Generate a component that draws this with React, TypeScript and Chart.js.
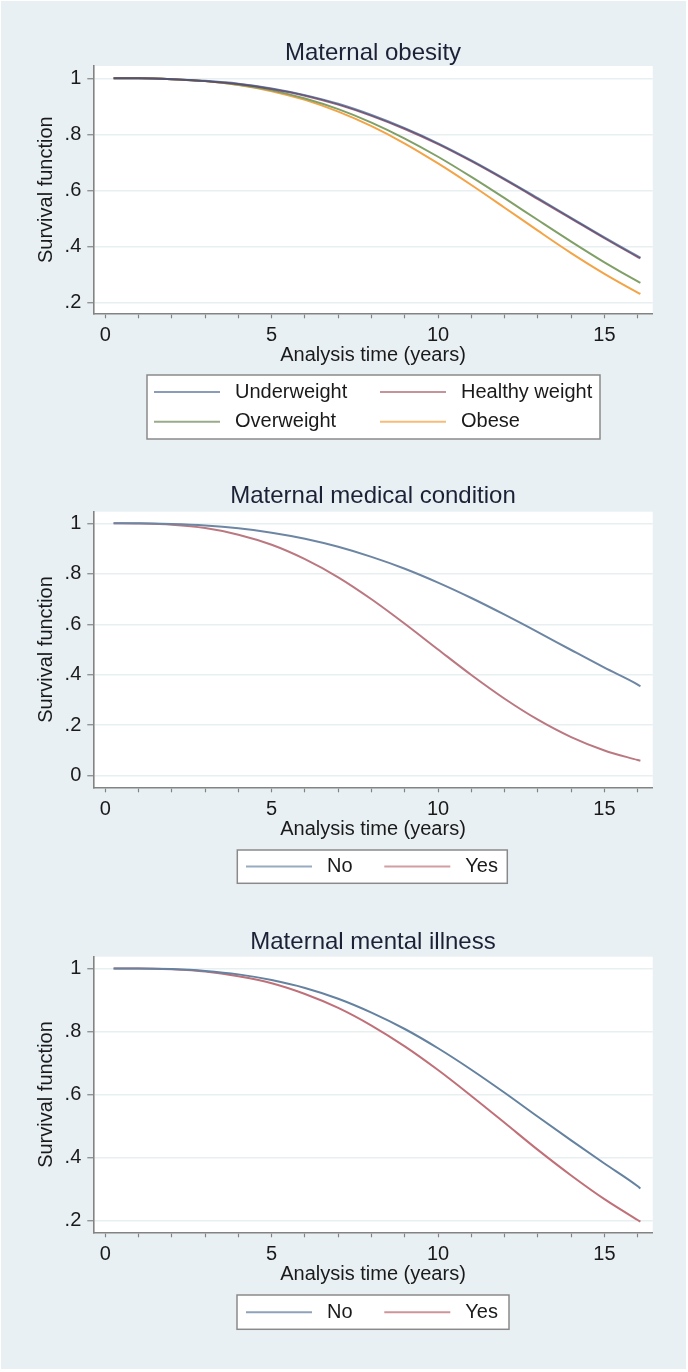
import React, { useEffect, useRef } from "react";
import { Chart, registerables } from "chart.js";

Chart.register(...registerables);

// ---------- data ----------
const timeYears = [0.25, 1, 2, 3, 4, 5, 6, 7, 8, 9, 10, 11, 12, 13, 14, 15, 16, 16.08];
const xTickValues = [0, 1, 2, 3, 4, 5, 6, 7, 8, 9, 10, 11, 12, 13, 14, 15, 16];
const xLabelledTicks = [0, 5, 10, 15];
const yTicksFromPoint2 = [0.2, 0.4, 0.6, 0.8, 1];
const yTicksFromZero = [0, 0.2, 0.4, 0.6, 0.8, 1];

const obesityLabels = ["Underweight", "Healthy weight", "Overweight", "Obese"];
const underweight = [1.0, 1.0, 0.997, 0.991, 0.981, 0.964, 0.94, 0.909, 0.869, 0.822, 0.768, 0.707, 0.641, 0.572, 0.502, 0.432, 0.365, 0.36];
const healthyWeight = [1.0, 1.0, 0.997, 0.99, 0.98, 0.962, 0.938, 0.906, 0.866, 0.819, 0.765, 0.704, 0.638, 0.569, 0.499, 0.429, 0.362, 0.357];
const overweight = [1.0, 1.0, 0.997, 0.99, 0.977, 0.957, 0.928, 0.89, 0.842, 0.785, 0.72, 0.648, 0.572, 0.494, 0.417, 0.343, 0.275, 0.27];
const obese = [1.0, 1.0, 0.997, 0.99, 0.976, 0.954, 0.923, 0.881, 0.829, 0.767, 0.696, 0.619, 0.538, 0.456, 0.376, 0.302, 0.235, 0.23];

const yesNoLabels = ["No", "Yes"];
const medicalNo = [1.0, 1.0, 0.997, 0.991, 0.98, 0.963, 0.939, 0.907, 0.867, 0.82, 0.765, 0.704, 0.638, 0.569, 0.498, 0.428, 0.361, 0.354];
const medicalYes = [1.0, 0.999, 0.994, 0.981, 0.955, 0.915, 0.858, 0.786, 0.699, 0.602, 0.5, 0.399, 0.305, 0.222, 0.153, 0.1, 0.062, 0.059];
const mentalNo = [1.0, 1.0, 0.998, 0.992, 0.981, 0.963, 0.938, 0.904, 0.86, 0.808, 0.747, 0.679, 0.606, 0.53, 0.455, 0.382, 0.31, 0.303];
const mentalYes = [1.0, 1.0, 0.997, 0.99, 0.975, 0.953, 0.919, 0.875, 0.819, 0.753, 0.678, 0.596, 0.511, 0.425, 0.344, 0.269, 0.203, 0.198];

// ---------- styling ----------
const FONT = '"Liberation Sans", Arial, Helvetica, sans-serif';
const TEXT = "#1a1a1a";
const TITLE_COLOR = "#1c2236";
const AXIS = "#838383";
const GRID = "#e7eff1";
const BG = "#e9f0f3";

const decorPlugin = {
  id: "stataDecor",
  beforeDraw(chart: any, _args: any, opts: any) {
    const { ctx, chartArea: a } = chart;
    ctx.save();
    ctx.fillStyle = "#ffffff";
    ctx.fillRect(a.left, a.top, a.right - a.left, a.bottom - a.top);
    ctx.restore();
  },
  afterDraw(chart: any, _args: any, opts: any) {
    const { ctx, chartArea: a } = chart;
    ctx.save();
    ctx.fillStyle = TITLE_COLOR;
    ctx.font = `24px ${FONT}`;
    ctx.textAlign = "center";
    ctx.textBaseline = "alphabetic";
    ctx.fillText(opts.title, (a.left + a.right) / 2, opts.titleBaseline);

    const L = opts.legend;
    const [bx, by, bw, bh] = L.box;
    ctx.fillStyle = "#ffffff";
    ctx.fillRect(bx, by, bw, bh);
    ctx.strokeStyle = "#8a8a8a";
    ctx.lineWidth = 1.5;
    ctx.strokeRect(bx, by, bw, bh);
    ctx.font = `20px ${FONT}`;
    ctx.textAlign = "left";
    ctx.textBaseline = "middle";
    chart.data.datasets.forEach((ds: any, i: number) => {
      const col = i % L.cols.length;
      const row = Math.floor(i / L.cols.length);
      const x0 = L.cols[col];
      const y = L.rows[row];
      ctx.strokeStyle = ds.legendColor || ds.borderColor;
      ctx.lineWidth = 2;
      ctx.beginPath();
      ctx.moveTo(x0, y);
      ctx.lineTo(x0 + L.lineLen, y);
      ctx.stroke();
      ctx.fillStyle = TEXT;
      ctx.fillText(ds.label, x0 + L.textGap, y);
    });
    ctx.restore();
  },
};

type SeriesDef = { label: string; values: number[]; color: string; legendColor: string };

type PanelProps = {
  top: number;
  height: number;
  title: string;
  titleBaseline: number;
  padTop: number;
  padBottom: number;
  yMin: number;
  yMax: number;
  yTicks: number[];
  series: SeriesDef[];
  legend: any;
};

function fmtY(v: number) {
  if (v === 0) return "0";
  if (v === 1) return "1";
  return String(Math.round(v * 10) / 10).replace(/^0\./, ".");
}

function SurvivalPanel(p: PanelProps) {
  const ref = useRef<HTMLCanvasElement | null>(null);
  useEffect(() => {
    if (!ref.current) return;
    const chart = new Chart(ref.current, {
      type: "line",
      data: {
        datasets: p.series.map((s) => ({
          label: s.label,
          data: timeYears.map((t, i) => ({ x: t, y: s.values[i] })),
          borderColor: s.color,
          legendColor: s.legendColor,
          borderWidth: 2,
          pointRadius: 0,
          fill: false,
          cubicInterpolationMode: "monotone",
        })) as any,
      },
      plugins: [decorPlugin],
      options: {
        responsive: false,
        animation: false,
        events: [],
        layout: { autoPadding: false, padding: { top: p.padTop, bottom: p.padBottom, left: 0, right: 35.3 } },
        plugins: {
          legend: { display: false },
          title: { display: false },
          tooltip: { enabled: false },
          stataDecor: { title: p.title, titleBaseline: p.titleBaseline, legend: p.legend },
        } as any,
        scales: {
          x: {
            type: "linear",
            min: -0.36,
            max: 16.45,
            afterBuildTicks: (scale: any) => {
              scale.ticks = xTickValues.map((v) => ({ value: v }));
            },
            afterFit: (scale: any) => {
              scale.height = 53.7;
            },
            ticks: {
              autoSkip: false,
              maxRotation: 0,
              padding: 5,
              color: TEXT,
              font: { family: FONT, size: 20 },
              callback: (v: any) => (xLabelledTicks.includes(Number(v)) ? String(v) : ""),
            },
            grid: { display: true, drawOnChartArea: false, drawTicks: true, tickLength: 5, color: AXIS, tickWidth: 1.2 },
            border: { display: true, color: AXIS, width: 1.6 },
            title: {
              display: true,
              text: "Analysis time (years)",
              color: TEXT,
              font: { family: FONT, size: 20 },
              padding: { top: 0, bottom: 0 },
            },
          },
          y: {
            type: "linear",
            min: p.yMin,
            max: p.yMax,
            afterBuildTicks: (scale: any) => {
              scale.ticks = p.yTicks.map((v) => ({ value: v }));
            },
            afterFit: (scale: any) => {
              scale.width = 93.3;
            },
            ticks: {
              padding: 6,
              color: TEXT,
              font: { family: FONT, size: 20 },
              callback: (v: any) => fmtY(Number(v)),
            },
            grid: { display: true, drawOnChartArea: true, drawTicks: true, tickLength: 6, color: GRID, tickColor: AXIS, lineWidth: 1.5, tickWidth: 1.2 },
            border: { display: true, color: AXIS, width: 1.6 },
            title: {
              display: true,
              text: "Survival function",
              color: TEXT,
              font: { family: FONT, size: 20 },
              padding: { top: 34.5, bottom: 0 },
            },
          },
        },
      } as any,
    });
    return () => chart.destroy();
  }, []);
  return (
    <canvas
      ref={ref}
      width={688}
      height={p.height}
      style={{ position: "absolute", left: 0, top: p.top, width: 688, height: p.height, display: "block" }}
    />
  );
}

const obesitySeries: SeriesDef[] = [
  { label: obesityLabels[0], values: underweight, color: "rgba(60,85,130,0.7)", legendColor: "#8a9cb8" },
  { label: obesityLabels[1], values: healthyWeight, color: "rgba(130,45,70,0.72)", legendColor: "#c4949a" },
  { label: obesityLabels[2], values: overweight, color: "#80a068", legendColor: "#9aab8a" },
  { label: obesityLabels[3], values: obese, color: "#f3a447", legendColor: "#f6bc78" },
];
const medicalSeries: SeriesDef[] = [
  { label: yesNoLabels[0], values: medicalNo, color: "#6d86a4", legendColor: "#98abc0" },
  { label: yesNoLabels[1], values: medicalYes, color: "#bb7880", legendColor: "#d19ea3" },
];
const mentalSeries: SeriesDef[] = [
  { label: yesNoLabels[0], values: mentalNo, color: "#6582a0", legendColor: "#8ea3bb" },
  { label: yesNoLabels[1], values: mentalYes, color: "#c07078", legendColor: "#cf9399" },
];

export default function App() {
  return (
    <div style={{ position: "absolute", left: 0, top: 0, width: 688, height: 1372, background: "#ffffff", overflow: "hidden" }}>
      <div style={{ position: "absolute", left: 1, top: 1, width: 685, height: 1368, background: BG }} />
      <SurvivalPanel
        top={0}
        height={456}
        title="Maternal obesity"
        titleBaseline={59.5}
        padTop={66}
        padBottom={89}
        yMin={0.161}
        yMax={1.044}
        yTicks={yTicksFromPoint2}
        series={obesitySeries}
        legend={{ box: [147, 375, 453, 64], cols: [154, 380], rows: [392, 421.7], lineLen: 66, textGap: 81 }}
      />
      <SurvivalPanel
        top={456}
        height={444}
        title="Maternal medical condition"
        titleBaseline={47.3}
        padTop={55.7}
        padBottom={59}
        yMin={-0.046}
        yMax={1.046}
        yTicks={yTicksFromZero}
        series={medicalSeries}
        legend={{ box: [237.3, 394, 270, 33.3], cols: [246, 384.3], rows: [410.5], lineLen: 66, textGap: 81 }}
      />
      <SurvivalPanel
        top={900}
        height={472}
        title="Maternal mental illness"
        titleBaseline={49.3}
        padTop={56.7}
        padBottom={86}
        yMin={0.164}
        yMax={1.037}
        yTicks={yTicksFromPoint2}
        series={mentalSeries}
        legend={{ box: [237, 395, 272, 34.3], cols: [246, 384.3], rows: [412.2], lineLen: 66, textGap: 81 }}
      />
    </div>
  );
}
